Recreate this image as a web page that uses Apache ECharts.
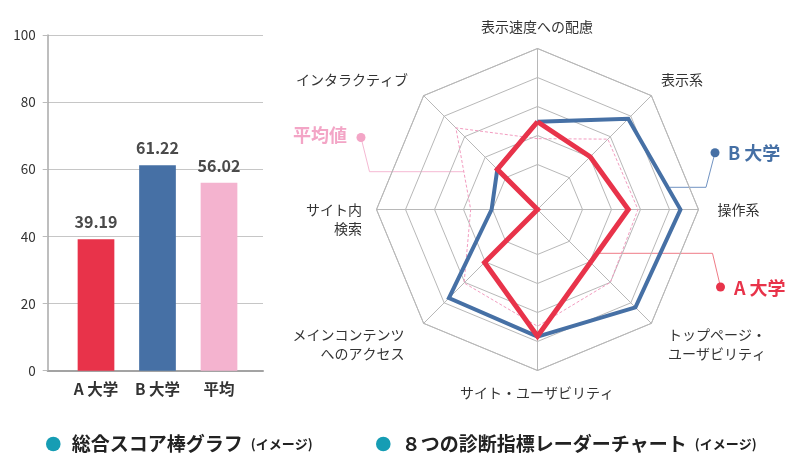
<!DOCTYPE html>
<html><head><meta charset="utf-8">
<script src="https://cdn.jsdelivr.net/npm/echarts@6/dist/echarts.min.js"></script>
<style>html,body{margin:0;padding:0;background:#fff}#c{width:800px;height:475px}</style>
</head><body><div id="c"></div>
<script>
// ---- data ----
const barCategories = ['A 大学', 'B 大学', '平均'];
const barValues = [39.19, 61.22, 56.02];
const barColors = ['#e8334a', '#4670a5', '#f4b3cf'];
const yTicks = [0, 20, 40, 60, 80, 100];

// radar indicators, counter-clockwise from top
const radarIndicators = ['表示速度への配慮', 'インタラクティブ', 'サイト内\n検索', 'メインコンテンツ\nへのアクセス',
  'サイト・ユーザビリティ', 'トップページ・\nユーザビリティ', '操作系', '表示系'];
const seriesA = [54.5, 35.3, 0, 46.5, 78.7, 46.5, 56.4, 46.3];
const seriesB = [54.5, 35.3, 28.5, 77.8, 79, 86, 88.8, 79.7];
const seriesAvg = [44, 71.7, 41.5, 64.5, 72.5, 64, 62.4, 61.8];
const radarSeriesNames = ['平均値', 'B 大学', 'A 大学'];
const legendTitles = ['総合スコア棒グラフ', '８つの診断指標レーダーチャート'];

// ---- layout ----
const FONT = '"Noto Sans CJK JP", "Noto Sans", sans-serif';
const RC = [537.5, 209.5], RR = 161;
const gridColor = '#b8b8b8';

// radar name label placement (annotation layout)
const labelPos = [
  {x: 537, y: 27, align: 'center'},
  {x: 408, y: 80, align: 'right'},
  {x: 362, y: 209.5, align: 'right'},
  {x: 404.5, y: 334.5, align: 'right'},
  {x: 537, y: 393, align: 'center'},
  {x: 668, y: 334.5, align: 'left'},
  {x: 738.5, y: 210, align: 'center'},
  {x: 682, y: 80, align: 'center'}
];

const graphics = [];
radarIndicators.forEach((name, i) => {
  const p = labelPos[i];
  graphics.push({
    type: 'text', x: p.x, y: p.y - 9.5,
    style: {text: name, fill: '#333', font: '14px ' + FONT, align: p.align, verticalAlign: 'top', lineHeight: 19}
  });
});

// callouts
function callout(points, dot, textPos, text, color, lineColor) {
  graphics.push({type: 'polyline', shape: {points: points}, style: {stroke: lineColor, lineWidth: 1, fill: null}});
  graphics.push({type: 'circle', shape: {cx: dot[0], cy: dot[1], r: 4.5}, style: {fill: color}});
  graphics.push({type: 'text', x: textPos[0], y: textPos[1],
    style: {text: text, fill: color, font: 'bold 18px ' + FONT, align: 'left', verticalAlign: 'middle'}});
}
callout([[361, 137.5], [369.5, 171.7], [464, 171.7]], [361, 137.5], [293, 135.5], radarSeriesNames[0], '#f3a5c6', '#f5b9d3');
callout([[715, 152.7], [706, 187.3], [670, 187.3]], [715, 152.7], [728, 153], radarSeriesNames[1], '#4670a5', '#7193c2');
callout([[720.5, 287], [712.5, 253.3], [597, 253.3]], [720.5, 287], [734, 288], radarSeriesNames[2], '#e8334a', '#ef7b86');

// bottom legend
const legendX = [53.3, 383.3];
legendTitles.forEach((t, i) => {
  graphics.push({type: 'circle', shape: {cx: legendX[i], cy: 444, r: 7.3}, style: {fill: '#169db4'}});
  graphics.push({type: 'text', x: legendX[i] + 18.5, y: 444,
    style: {
      text: '{m|' + t + '}{s|(イメージ)}', verticalAlign: 'middle', align: 'left',
      rich: {
        m: {font: 'bold 19px ' + FONT, fill: '#222'},
        s: {font: 'bold 13px ' + FONT, fill: '#222', padding: [0, 0, 0, 8]}
      }
    }});
});

const indicatorA = radarIndicators.map(n => ({name: n, min: 0, max: 100}));

const option = {
  backgroundColor: '#fff',
  animation: false,
  grid: [
    {left: 47.7, top: 35, width: 215.3, height: 335.7},
    {left: 65.25, top: 35, width: 184.5, height: 335.7}
  ],
  xAxis: [
    {gridIndex: 0, type: 'value', min: 0, max: 1, axisLine: {show: true, lineStyle: {color: '#a3a3a3', width: 2}},
      axisTick: {show: false}, axisLabel: {show: false}, splitLine: {show: false}},
    {gridIndex: 1, type: 'category', data: barCategories, axisLine: {show: false}, axisTick: {show: false},
      axisLabel: {interval: 0, margin: 11, fontFamily: FONT, fontSize: 15.5, fontWeight: 'bold', color: '#333'}}
  ],
  yAxis: [
    {gridIndex: 0, type: 'value', min: yTicks[0], max: yTicks[yTicks.length - 1], interval: yTicks[1] - yTicks[0],
      axisLine: {show: true, lineStyle: {color: '#a8a8a8', width: 1.5}},
      axisTick: {show: true, length: 5, lineStyle: {color: '#bbb'}},
      splitLine: {show: true, lineStyle: {color: '#c6c6c6', width: 1}},
      axisLabel: {margin: 12, fontFamily: FONT, fontSize: 13.5, color: '#333'}},
    {gridIndex: 1, type: 'value', min: yTicks[0], max: yTicks[yTicks.length - 1], show: false}
  ],
  radar: [
    {center: RC, radius: [45, RR], startAngle: 90, splitNumber: 4, shape: 'polygon',
      indicator: indicatorA, axisName: {show: false}, axisLine: {show: false}, axisTick: {show: false},
      splitArea: {show: false}, splitLine: {lineStyle: {color: gridColor, width: 1}}},
    {center: RC, radius: RR, startAngle: 90, splitNumber: 1, shape: 'polygon',
      indicator: indicatorA, axisName: {show: false}, axisLine: {show: true, lineStyle: {color: gridColor, width: 1}},
      axisTick: {show: false}, splitArea: {show: false}, splitLine: {show: true, lineStyle: {color: gridColor, width: 1}}}
  ],
  series: [
    {type: 'bar', xAxisIndex: 1, yAxisIndex: 1, barWidth: 36.7,
      data: barValues.map((v, i) => ({value: v, itemStyle: {color: barColors[i]}})),
      label: {show: true, position: 'top', distance: 9, fontFamily: FONT, fontSize: 16, fontWeight: 'bold', color: '#4a4a4a',
        formatter: p => p.value.toFixed(2)}},
    {type: 'radar', radarIndex: 1, symbol: 'none', z: 3,
      data: [{value: seriesAvg, name: radarSeriesNames[0], lineStyle: {color: '#f39cc0', width: 1, type: [3, 2]}}]},
    {type: 'radar', radarIndex: 1, symbol: 'none', z: 4,
      data: [{value: seriesB, name: radarSeriesNames[1], lineStyle: {color: '#4670a5', width: 4, join: 'miter'}}]},
    {type: 'radar', radarIndex: 1, symbol: 'none', z: 5,
      data: [{value: seriesA, name: radarSeriesNames[2], lineStyle: {color: '#e8334a', width: 5, join: 'miter'}}]}
  ],
  graphic: graphics
};
const chart = echarts.init(document.getElementById('c'), null, {renderer: 'canvas'});
chart.setOption(option);
</script></body></html>
